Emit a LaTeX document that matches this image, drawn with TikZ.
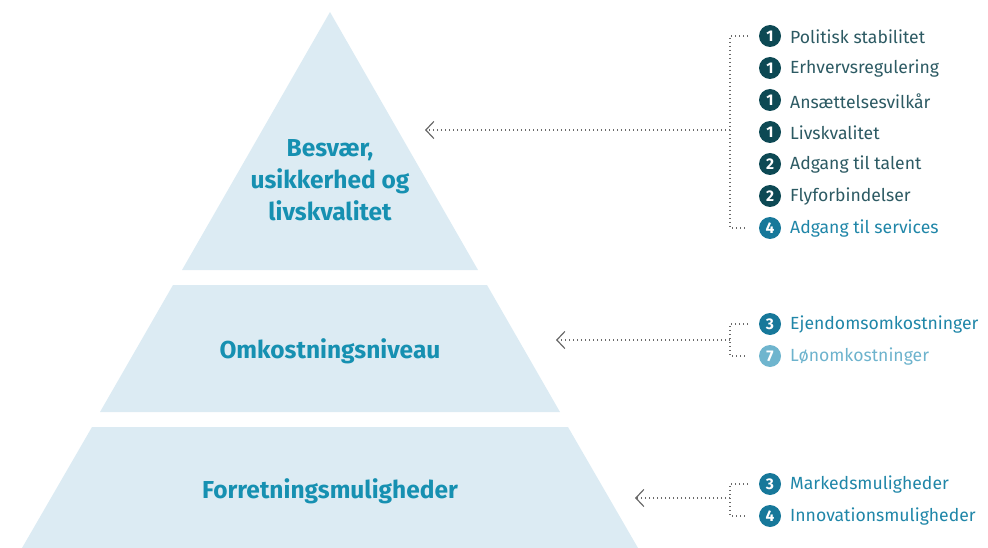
\documentclass[tikz,border=0pt]{standalone}
\usepackage{fontspec}
\setmainfont{Fira Sans}
\usetikzlibrary{arrows.meta}
\definecolor{pyr}{HTML}{DCEBF3}
\definecolor{ttl}{HTML}{1690B1}
\definecolor{dk}{HTML}{0D4954}
\definecolor{dktxt}{HTML}{2C5A63}
\definecolor{md}{HTML}{17789A}
\definecolor{mdtxt}{HTML}{1F86A8}
\definecolor{lt}{HTML}{6FB5CE}
\definecolor{lttxt}{HTML}{6DB3CD}
\definecolor{arr}{HTML}{6A6A6A}
\tikzset{
  x=1pt,y=-1pt,
  level/.style={fill=pyr,draw=none},
  ttlnode/.style={text=ttl,font=\fontsize{24.5}{32}\selectfont\bfseries,align=center},
  num/.style={circle,fill=#1,text=white,inner sep=0pt,minimum size=22pt,font=\fontsize{15.5}{15.5}\selectfont\bfseries},
  item/.style={anchor=west,inner sep=0pt,font=\fontsize{17.6}{18}\selectfont,text=#1},
  dots/.style={draw=arr,line width=1.1pt,dash pattern=on 1pt off 3pt},
  pointer/.style={dots,-{Straight Barb[length=8pt,width=17pt,line width=1.2pt,arr]}}
}
\begin{document}
\begin{tikzpicture}
\useasboundingbox (0,0) rectangle (988,548);
% pyramid
\fill[level] (330,12) -- (478,270) -- (182,270) -- cycle;
\fill[level] (173,285) -- (487,285) -- (560,412) -- (100,412) -- cycle;
\fill[level] (92,427) -- (568,427) -- (638,548) -- (22,548) -- cycle;
\node[ttlnode] (t1) at (330,180) {Besvær,\\usikkerhed og\\livskvalitet};
\node[ttlnode] (t2) at (330,351) {Omkostningsniveau};
\node[ttlnode] (t3) at (330,491) {Forretningsmuligheder};
% list 1
\node[num=dk] (n1) at (770,36) {1}; \node[item=dktxt] (l1) at (790,37) {Politisk stabilitet};
\node[num=dk] (n2) at (770,68) {1}; \node[item=dktxt] (l2) at (790,69) {Erhvervsregulering};
\node[num=dk] (n3) at (770,100) {1}; \node[item=dktxt] (l3) at (790,101) {Ansættelsesvilkår};
\node[num=dk] (n4) at (770,132) {1}; \node[item=dktxt] (l4) at (790,133) {Livskvalitet};
\node[num=dk] (n5) at (770,164) {2}; \node[item=dktxt] (l5) at (790,165) {Adgang til talent};
\node[num=dk] (n6) at (770,196) {2}; \node[item=dktxt] (l6) at (790,197) {Flyforbindelser};
\node[num=md] (n7) at (770,228) {4}; \node[item=mdtxt] (l7) at (790,229) {Adgang til services};
% list 2
\node[num=md] (m1) at (770,324) {3}; \node[item=mdtxt] (k1) at (790,325) {Ejendomsomkostninger};
\node[num=lt] (m2) at (770,356) {7}; \node[item=lttxt] (k2) at (790,357) {Lønomkostninger};
% list 3
\node[num=md] (p1) at (770,484) {3}; \node[item=mdtxt] (q1) at (790,485) {Markedsmuligheder};
\node[num=md] (p2) at (770,516) {4}; \node[item=mdtxt] (q2) at (790,517) {Innovationsmuligheder};
% brackets
\coordinate (b1) at (730,130);
\coordinate (e1) at (425,130);
\draw[dots] (748,36) -- (730,36) -- (730,228) -- (748,228);
\draw[pointer] (b1) -- (e1);
\coordinate (b2) at (730,340);
\coordinate (e2) at (556,340);
\draw[dots] (748,324) -- (730,324) -- (730,356) -- (748,356);
\draw[pointer] (b2) -- (e2);
\coordinate (b3) at (730,498);
\coordinate (e3) at (635,498);
\draw[dots] (748,484) -- (730,484) -- (730,516) -- (748,516);
\draw[pointer] (b3) -- (e3);
\end{tikzpicture}
\end{document}
